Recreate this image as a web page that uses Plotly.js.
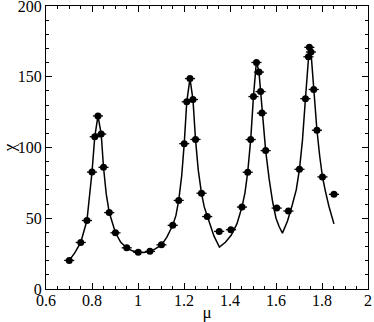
<!DOCTYPE html>
<html><head><meta charset="utf-8">
<script src="https://cdn.plot.ly/plotly-3.0.1.min.js"></script>
<style>html,body{margin:0;padding:0;background:#fff}#c{width:374px;height:322px}</style>
</head><body><div id="c"></div>
<script>
// measured points
var muData = [0.701,0.751,0.778,0.800,0.812,0.826,0.840,0.850,0.875,0.902,0.951,1.001,1.052,1.102,1.151,1.177,1.201,1.212,1.226,1.239,1.250,1.276,1.301,1.353,1.404,1.452,1.477,1.490,1.502,1.515,1.526,1.533,1.539,1.555,1.603,1.654,1.702,1.728,1.741,1.745,1.752,1.764,1.778,1.802,1.852];
var chiData = [20.2,32.9,48.4,82.6,107.6,122.3,109.5,86,54,39.7,29.1,25.9,26.6,31.2,45,62.6,102.7,132.3,148.7,133.9,105.7,67.7,51.2,40.7,41.9,57.9,82.5,105.6,136,160.1,153.3,139.5,124.3,97.8,57.2,55.1,84.6,134.5,164.1,170.8,167.5,141,112.2,79.2,66.9];
var muErr = [0.022,0.022,0.022,0.022,0.022,0.022,0.022,0.022,0.022,0.022,0.022,0.022,0.022,0.022,0.022,0.022,0.022,0.022,0.022,0.022,0.022,0.022,0.022,0.022,0.022,0.022,0.022,0.022,0.022,0.022,0.022,0.022,0.022,0.022,0.022,0.022,0.022,0.022,0.022,0.022,0.022,0.022,0.022,0.022,0.022];
// theory curve
var muCurve = [0.701,0.725,0.751,0.778,0.800,0.812,0.826,0.840,0.850,0.862,0.875,0.890,0.902,0.925,0.951,0.975,1.001,1.025,1.052,1.075,1.102,1.125,1.151,1.165,1.177,1.190,1.201,1.212,1.226,1.239,1.250,1.262,1.276,1.288,1.301,1.315,1.330,1.354,1.380,1.405,1.430,1.452,1.465,1.477,1.490,1.502,1.515,1.526,1.533,1.539,1.555,1.570,1.585,1.600,1.614,1.628,1.650,1.670,1.688,1.702,1.715,1.728,1.741,1.745,1.752,1.764,1.778,1.790,1.802,1.815,1.830,1.852];
var chiCurve = [20.2,25.5,32.9,48.4,82.6,107.6,122.3,109.5,86,67,54,45,39.7,33,29.1,27,25.9,25.8,26.6,28.3,31.2,36.5,45,52,62.6,80,102.7,132.3,148.7,133.9,105.7,84,67.7,58,51.2,44,37.5,29.6,33,38,46,57.9,68,82.5,105.6,136,161,153.3,139.5,124.3,97.8,78,62,50,44,39.5,48,59,70,84.6,105,134.5,164.1,171,167.5,141,112.2,94,79.2,69,58.5,46];
var xTicks = [0.6,0.8,1,1.2,1.4,1.6,1.8,2];
var xTickText = ["0.6","0.8","1","1.2","1.4","1.6","1.8","2"];
var yTicks = [0,50,100,150,200];
var yTickText = ["0","50","100","150","200"];

var FAM = "Liberation Serif";
var traces = [
  {x:muCurve, y:chiCurve, mode:"lines", line:{color:"#000", width:1.5}, hoverinfo:"skip"},
  {x:muData, y:chiData, mode:"markers", marker:{color:"#000", size:7},
   error_x:{type:"data", array:muErr, visible:true, color:"#000", thickness:1.3, width:0}}
];
function ax(extra){
  var a = {showline:true, mirror:"allticks", linecolor:"#000", linewidth:1, ticks:"inside",
    ticklen:6, tickwidth:1, tickcolor:"#000", showgrid:false, zeroline:false,
    tickfont:{family:FAM, size:16, color:"#000"}, ticklabeloverflow:"allow", automargin:false};
  for (var k in extra) a[k] = extra[k];
  return a;
}
var layout = {
  width:374, height:322, showlegend:false, paper_bgcolor:"#fff", plot_bgcolor:"#fff",
  font:{family:FAM, size:16, color:"#000"},
  margin:{l:46, r:6, t:6, b:33},
  xaxis: ax({range:[0.6,2], tickmode:"array", tickvals:xTicks, ticktext:xTickText,
    minor:{dtick:0.05, ticks:"inside", ticklen:3, tickcolor:"#000", showgrid:false},
    ticklabelstandoff:-3,
    title:{text:"μ", font:{family:FAM, size:17, color:"#000"}, standoff:0}}),
  yaxis: ax({range:[0,200], tickmode:"array", tickvals:yTicks, ticktext:yTickText,
    minor:{dtick:10, ticks:"inside", ticklen:3, tickcolor:"#000", showgrid:false},
    title:{text:"χ", font:{family:FAM, size:17, color:"#000"}, standoff:2}})
};
Plotly.newPlot("c", traces, layout, {staticPlot:true, displayModeBar:false});
</script></body></html>
